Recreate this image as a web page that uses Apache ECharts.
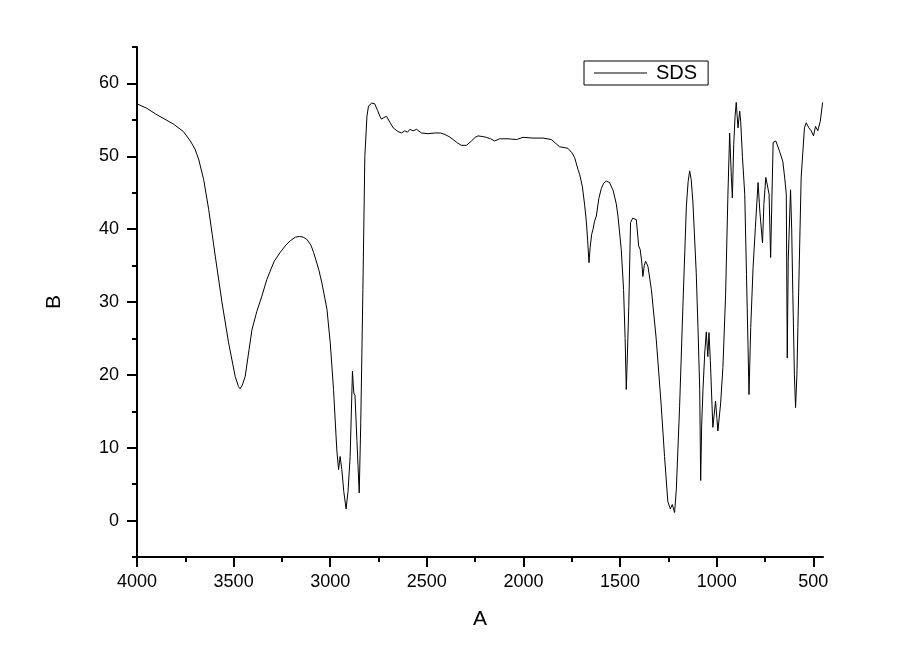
<!DOCTYPE html>
<html>
<head>
<meta charset="utf-8">
<script src="https://cdn.jsdelivr.net/npm/echarts@6/dist/echarts.min.js"></script>
<style>
  html, body { margin: 0; background: #fff; }
  #main { width: 907px; height: 671px; }
</style>
</head>
<body>
<div id="main"></div>
<script>
// IR spectrum of SDS
const wavenumber = [
  4000, 3950, 3897, 3850, 3810, 3760, 3724, 3700, 3681, 3655, 3629, 3595, 3560, 3526, 3492, 3475,
  3466, 3455, 3440, 3420, 3405, 3380, 3354, 3328, 3290, 3259, 3230, 3207, 3180, 3159, 3140, 3121,
  3100, 3086, 3060, 3043, 3017, 3000, 2983, 2966, 2957, 2949, 2940, 2930, 2918, 2908, 2897, 2885,
  2878, 2872, 2862, 2850, 2842, 2831, 2821, 2810, 2802, 2785, 2770, 2755, 2743, 2735, 2723, 2709,
  2690, 2674, 2650, 2631, 2614, 2600, 2588, 2571, 2553, 2528, 2494, 2459, 2430, 2407, 2385, 2364,
  2340, 2321, 2295, 2269, 2250, 2235, 2210, 2192, 2170, 2149, 2123, 2080, 2036, 2002, 1951, 1899,
  1856, 1830, 1813, 1790, 1770, 1750, 1735, 1718, 1709, 1695, 1683, 1675, 1668, 1661, 1655, 1647,
  1640, 1632, 1623, 1610, 1597, 1585, 1571, 1555, 1536, 1520, 1511, 1494, 1482, 1474, 1468, 1462,
  1455, 1446, 1435, 1425, 1416, 1404, 1396, 1388, 1382, 1375, 1368, 1356, 1338, 1313, 1287, 1270,
  1253, 1240, 1230, 1218, 1209, 1192, 1175, 1157, 1148, 1140, 1132, 1123, 1106, 1097, 1088, 1083,
  1078, 1071, 1062, 1054, 1046, 1040, 1033, 1020, 1006, 999, 994, 980, 968, 954, 942, 933,
  924, 919, 912, 905, 899, 890, 881, 876, 867, 855, 846, 838, 833, 824, 812, 800,
  786, 777, 763, 756, 746, 736, 729, 721, 714, 708, 694, 675, 658, 648, 640, 635,
  630, 618, 612, 606, 598, 592, 585, 580, 563, 546, 537, 523, 511, 499, 489, 477,
  464, 452
]
const transmittance = [
  57.2, 56.6, 55.7, 55.0, 54.4, 53.4, 52.1, 51.0, 49.6, 46.8, 42.7, 36.3, 29.9, 24.4, 19.8, 18.4,
  18.1, 18.6, 19.8, 23.5, 26.2, 28.7, 30.8, 33.1, 35.6, 36.8, 37.8, 38.4, 38.9, 39.0, 38.9, 38.6,
  37.8, 36.8, 34.5, 32.6, 29.0, 24.4, 18.0, 9.7, 7.0, 8.8, 7.0, 4.0, 1.6, 4.0, 8.8, 20.5,
  17.5, 17.2, 11.0, 3.8, 13.5, 31.7, 50.0, 55.5, 56.9, 57.3, 57.2, 56.3, 55.5, 55.1, 55.3, 55.5,
  54.6, 53.9, 53.4, 53.2, 53.5, 53.3, 53.7, 53.5, 53.7, 53.2, 53.1, 53.2, 53.2, 53.0, 52.7, 52.3,
  51.8, 51.5, 51.5, 52.1, 52.6, 52.8, 52.7, 52.6, 52.4, 52.1, 52.4, 52.4, 52.3, 52.6, 52.5, 52.5,
  52.3, 51.7, 51.3, 51.2, 51.1, 50.5, 49.8, 48.2, 47.5, 45.8, 43.2, 41.1, 38.5, 35.4, 37.5, 39.3,
  40.0, 41.1, 41.8, 44.2, 45.6, 46.3, 46.6, 46.4, 45.3, 43.5, 41.8, 37.2, 31.7, 25.0, 18.0, 23.0,
  29.4, 40.9, 41.5, 41.7, 41.3, 37.7, 37.2, 35.5, 33.5, 35.0, 35.6, 34.9, 31.7, 24.9, 15.7, 8.8,
  2.6, 1.6, 2.2, 1.1, 4.3, 15.7, 29.4, 43.2, 46.5, 48.0, 46.8, 43.6, 34.0, 26.5, 18.0, 5.5,
  13.0, 18.0, 23.0, 25.9, 22.5, 25.8, 22.0, 12.8, 16.4, 14.0, 12.3, 16.0, 21.0, 31.0, 44.8, 53.2,
  47.0, 44.3, 51.6, 55.5, 57.4, 53.9, 56.2, 54.8, 50.0, 44.8, 33.8, 24.0, 17.3, 26.5, 34.7, 40.2,
  46.4, 42.5, 38.1, 43.4, 47.1, 47.3, 44.8, 36.1, 44.8, 51.9, 52.1, 50.7, 49.3, 47.0, 44.8, 22.3,
  35.6, 45.4, 40.0, 31.0, 20.0, 15.5, 20.0, 26.5, 47.1, 53.9, 54.6, 53.9, 53.5, 52.8, 54.1, 53.5,
  54.8, 57.4
]

const xMajorTicks = [4000, 3500, 3000, 2500, 2000, 1500, 1000, 500]
const xMinorTicks = [3750, 3250, 2750, 2250, 1750, 1250, 750]
const yMajorTicks = [0, 10, 20, 30, 40, 50, 60]
const yMinorTicks = [-5, 5, 15, 25, 35, 45, 55, 65]

const font = 'Liberation Sans, Arial, sans-serif'
const axisColor = '#000'

const chart = echarts.init(document.getElementById('main'))

const xBase = {
  type: 'value',
  min: 450,
  max: 4000,
  inverse: true,
  position: 'bottom',
  splitLine: { show: false }
}
const yBase = {
  type: 'value',
  min: -5,
  max: 65,
  position: 'left',
  splitLine: { show: false }
}

chart.setOption({
  animation: false,
  backgroundColor: '#fff',
  grid: { left: 137, right: 84, top: 47, bottom: 114 },
  legend: {
    data: [{ name: 'SDS', icon: 'rect' }],
    left: 584,
    top: 61,
    padding: [2, 11, 2, 10],
    borderColor: '#000',
    borderWidth: 1,
    borderRadius: 0,
    itemWidth: 53,
    itemHeight: 1,
    textStyle: { fontFamily: font, fontSize: 20, color: '#000', padding: [0, 0, 0, 4] }
  },
  xAxis: [
    {
      ...xBase,
      name: 'A',
      nameLocation: 'middle',
      nameGap: 52,
      nameTextStyle: { fontFamily: font, fontSize: 21, color: '#000' },
      axisLine: { onZero: false, lineStyle: { color: axisColor, width: 2 } },
      axisTick: { customValues: xMajorTicks, length: 10, lineStyle: { color: axisColor, width: 2 } },
      axisLabel: {
        customValues: xMajorTicks,
        margin: 16,
        formatter: (v) => String(v),
        fontFamily: font,
        fontSize: 18,
        color: '#000'
      }
    },
    {
      ...xBase,
      axisLine: { show: false, onZero: false },
      axisTick: { customValues: xMinorTicks, length: 5, lineStyle: { color: axisColor, width: 2 } },
      axisLabel: { show: false }
    }
  ],
  yAxis: [
    {
      ...yBase,
      name: 'B',
      nameLocation: 'middle',
      nameGap: 72,
      nameTextStyle: { fontFamily: font, fontSize: 21, color: '#000' },
      axisLine: { show: true, onZero: false, lineStyle: { color: axisColor, width: 2 } },
      axisTick: { show: true, customValues: yMajorTicks, length: 10, lineStyle: { color: axisColor, width: 2 } },
      axisLabel: { customValues: yMajorTicks, margin: 18, fontFamily: font, fontSize: 18, color: '#000' }
    },
    {
      ...yBase,
      axisLine: { show: false, onZero: false },
      axisTick: { show: true, customValues: yMinorTicks, length: 5, lineStyle: { color: axisColor, width: 2 } },
      axisLabel: { show: false }
    }
  ],
  series: [
    {
      name: 'SDS',
      type: 'line',
      xAxisIndex: 0,
      yAxisIndex: 0,
      symbol: 'none',
      lineStyle: { color: '#000', width: 1 },
      itemStyle: { color: '#000' },
      data: wavenumber.map((w, i) => [w, transmittance[i]])
    }
  ]
})
</script>
</body>
</html>
